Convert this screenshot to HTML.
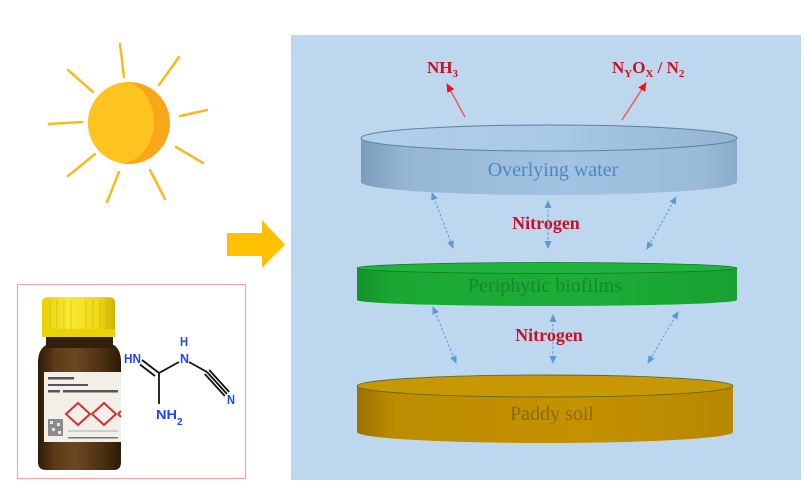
<!DOCTYPE html>
<html>
<head>
<meta charset="utf-8">
<style>
  html,body{margin:0;padding:0;background:#fff;}
  svg{display:block;}
</style>
</head>
<body>
<svg width="805" height="486" viewBox="0 0 805 486" xmlns="http://www.w3.org/2000/svg">
  <defs>
    <linearGradient id="gBlueSide" x1="0" y1="0" x2="1" y2="0">
      <stop offset="0" stop-color="#7b9cba"/>
      <stop offset="0.12" stop-color="#95b6d5"/>
      <stop offset="0.55" stop-color="#a3c3e3"/>
      <stop offset="0.9" stop-color="#9bbbdb"/>
      <stop offset="1" stop-color="#8aaccb"/>
    </linearGradient>
    <linearGradient id="gBlueTop" x1="0" y1="0" x2="1" y2="0">
      <stop offset="0" stop-color="#b3d0ec"/>
      <stop offset="0.5" stop-color="#a9c9e8"/>
      <stop offset="1" stop-color="#93b4d3"/>
    </linearGradient>
    <linearGradient id="gGreenSide" x1="0" y1="0" x2="1" y2="0">
      <stop offset="0" stop-color="#129428"/>
      <stop offset="0.1" stop-color="#1aa833"/>
      <stop offset="0.6" stop-color="#1cae37"/>
      <stop offset="1" stop-color="#17a130"/>
    </linearGradient>
    <linearGradient id="gSoilSide" x1="0" y1="0" x2="1" y2="0">
      <stop offset="0" stop-color="#9c7200"/>
      <stop offset="0.1" stop-color="#bd8c00"/>
      <stop offset="0.6" stop-color="#c49100"/>
      <stop offset="1" stop-color="#b88700"/>
    </linearGradient>
    <linearGradient id="gBottle" x1="0" y1="0" x2="1" y2="0">
      <stop offset="0" stop-color="#2e1a08"/>
      <stop offset="0.2" stop-color="#5a3a18"/>
      <stop offset="0.45" stop-color="#6b4822"/>
      <stop offset="0.8" stop-color="#4a2e12"/>
      <stop offset="1" stop-color="#2e1a08"/>
    </linearGradient>
    <linearGradient id="gCap" x1="0" y1="0" x2="1" y2="0">
      <stop offset="0" stop-color="#e6d000"/>
      <stop offset="0.35" stop-color="#f8e834"/>
      <stop offset="0.75" stop-color="#f2dc18"/>
      <stop offset="1" stop-color="#cdb400"/>
    </linearGradient>
    <marker id="mb" viewBox="0 0 8 7" refX="7" refY="3.5" markerWidth="8" markerHeight="7" markerUnits="userSpaceOnUse" orient="auto-start-reverse">
      <path d="M0,0 L8,3.5 L0,7 z" fill="#5b9bd5"/>
    </marker>
    <marker id="mr" viewBox="0 0 9 8" refX="8" refY="4" markerWidth="9" markerHeight="8" markerUnits="userSpaceOnUse" orient="auto">
      <path d="M0,0 L9,4 L0,8 z" fill="#ee1515"/>
    </marker>
    <clipPath id="sunClip"><circle cx="129" cy="123" r="41"/></clipPath>
  </defs>

  <!-- Sun -->
  <g stroke="#fbb920" stroke-width="2.5" stroke-linecap="round">
    <line x1="120" y1="44" x2="124" y2="77"/>
    <line x1="179" y1="57" x2="159" y2="85"/>
    <line x1="180" y1="116" x2="207" y2="110"/>
    <line x1="176" y1="147" x2="203" y2="163"/>
    <line x1="150" y1="170" x2="165" y2="199"/>
    <line x1="119" y1="172" x2="107" y2="202"/>
    <line x1="95" y1="154" x2="68" y2="176"/>
    <line x1="82" y1="122" x2="49" y2="124"/>
    <line x1="93" y1="92" x2="68" y2="70"/>
  </g>
  <circle cx="129" cy="123" r="41" fill="#f9a61a"/>
  <ellipse cx="121" cy="122" rx="33" ry="41" fill="#fdc41f" clip-path="url(#sunClip)"/>

  <!-- Yellow arrow -->
  <polygon points="227,233 262,233 262,220 285,244.5 262,268 262,256 227,256" fill="#ffc000"/>

  <!-- Pink box -->
  <rect x="17.5" y="284.5" width="228" height="194" fill="#ffffff" stroke="#f4a4a4" stroke-width="1.2"/>

  <!-- Bottle -->
  <path d="M46,345 Q38,350 38,362 L38,462 Q38,470 46,470 L114,470 Q121,470 121,462 L121,362 Q121,350 114,345 Z" fill="url(#gBottle)"/>
  <rect x="46" y="333" width="67" height="15" fill="#33200c"/>
  <path d="M42,337 L42,302 Q42,297 50,297 L107,297 Q115,297 115,302 L115,337 Z" fill="url(#gCap)"/>
  <rect x="42" y="329" width="73" height="8" fill="#e8d20a"/>
  <g stroke="#c8b000" stroke-width="0.8" opacity="0.7">
    <line x1="50" y1="300" x2="50" y2="329"/>
    <line x1="57" y1="300" x2="57" y2="329"/>
    <line x1="64" y1="300" x2="64" y2="329"/>
    <line x1="71" y1="300" x2="71" y2="329"/>
    <line x1="86" y1="300" x2="86" y2="329"/>
    <line x1="93" y1="300" x2="93" y2="329"/>
    <line x1="100" y1="300" x2="100" y2="329"/>
    <line x1="107" y1="300" x2="107" y2="329"/>
  </g>
  <rect x="44" y="372" width="77" height="70" fill="#f2efe8"/>
  <g fill="#555">
    <rect x="48" y="377" width="26" height="2.5"/>
    <rect x="48" y="384" width="40" height="2"/>
    <rect x="48" y="390" width="12" height="2.5"/>
    <rect x="63" y="390" width="55" height="2.5"/>
    <rect x="68" y="437" width="50" height="1.5" fill="#777"/>
  </g>
  <g fill="none" stroke="#d43030" stroke-width="2">
    <path d="M66,414 L78,403 L90,414 L78,425 Z"/>
    <path d="M92,414 L104,403 L116,414 L104,425 Z"/>
    <path d="M118,414 L121,411"/>
    <path d="M118,414 L121,417"/>
  </g>
  <rect x="48" y="419" width="15" height="17" fill="#8a8a8a"/>
  <g fill="#e8e8e8">
    <rect x="50" y="421" width="3" height="3"/>
    <rect x="57" y="423" width="3" height="3"/>
    <rect x="52" y="428" width="3" height="3"/>
    <rect x="58" y="431" width="3" height="3"/>
  </g>
  <line x1="68" y1="431" x2="118" y2="431" stroke="#999" stroke-width="0.8"/>

  <!-- Molecule -->
  <g stroke="#111" stroke-width="1.8" fill="none">
    <line x1="142" y1="360" x2="159" y2="373"/>
    <line x1="140" y1="364.5" x2="155" y2="376"/>
    <line x1="159" y1="373" x2="179" y2="362"/>
    <line x1="159" y1="373" x2="159" y2="404"/>
    <line x1="189" y1="362" x2="207" y2="372"/>
    <line x1="207" y1="372" x2="227" y2="394"/>
    <line x1="209.2" y1="370" x2="229.2" y2="392"/>
    <line x1="204.8" y1="374" x2="224.8" y2="396"/>
  </g>
  <g fill="#1f45ff" font-family="'Liberation Sans', sans-serif" font-weight="bold" font-size="13">
    <text x="124" y="363" textLength="17" lengthAdjust="spacingAndGlyphs">HN</text>
    <text x="180" y="346" textLength="8" lengthAdjust="spacingAndGlyphs">H</text>
    <text x="180" y="363" textLength="9" lengthAdjust="spacingAndGlyphs">N</text>
    <text x="227" y="404" textLength="8" lengthAdjust="spacingAndGlyphs">N</text>
    <text x="156" y="419" textLength="21" lengthAdjust="spacingAndGlyphs">NH</text>
    <text x="177" y="425" font-size="10">2</text>
  </g>

  <!-- Blue panel -->
  <rect x="291" y="35" width="510" height="445" fill="#bdd7ee"/>

  <!-- Red arrows -->
  <line x1="465" y1="117" x2="447" y2="84" stroke="#f05555" stroke-width="1.4" marker-end="url(#mr)"/>
  <line x1="622" y1="120" x2="646" y2="83" stroke="#f05555" stroke-width="1.4" marker-end="url(#mr)"/>

  <g fill="#cc1020" font-family="'Liberation Serif', serif" font-weight="bold" font-size="17">
    <text x="427" y="73">NH<tspan font-size="11" dy="4">3</tspan></text>
    <text x="612" y="73">N<tspan font-size="11" dy="4">Y</tspan><tspan dy="-4">O</tspan><tspan font-size="11" dy="4">X</tspan><tspan dy="-4"> / N</tspan><tspan font-size="11" dy="4">2</tspan></text>
  </g>

  <!-- Overlying water cylinder -->
  <path d="M361,138 L361,182 A188,13 0 0 0 737,182 L737,138 Z" fill="url(#gBlueSide)"/>
  <ellipse cx="549" cy="138" rx="188" ry="13" fill="url(#gBlueTop)" stroke="#5a8790" stroke-width="1"/>
  <text x="553" y="176" text-anchor="middle" font-family="'Liberation Serif', serif" font-size="20" fill="#4d88c3">Overlying water</text>

  <!-- Periphytic biofilms cylinder -->
  <path d="M357,268 L357,300 A190,6 0 0 0 737,300 L737,268 Z" fill="url(#gGreenSide)"/>
  <ellipse cx="547" cy="268" rx="190" ry="5.5" fill="#20b23c" stroke="#0f7a22" stroke-width="0.8"/>
  <text x="545" y="292" text-anchor="middle" font-family="'Liberation Serif', serif" font-size="20" fill="#158a2c">Periphytic biofilms</text>

  <!-- Paddy soil cylinder -->
  <path d="M357,386 L357,432 A188,11 0 0 0 733,432 L733,386 Z" fill="url(#gSoilSide)"/>
  <ellipse cx="545" cy="386" rx="188" ry="11" fill="#c79803" stroke="#5f6a26" stroke-width="0.9"/>
  <text x="552" y="420" text-anchor="middle" font-family="'Liberation Serif', serif" font-size="20" fill="#8b6a00">Paddy soil</text>

  <!-- Blue dashed double arrows -->
  <g stroke="#5b9bd5" stroke-width="1" stroke-dasharray="2.5,2" fill="none">
    <line x1="432" y1="193" x2="453" y2="248" marker-start="url(#mb)" marker-end="url(#mb)"/>
    <line x1="548" y1="201" x2="548" y2="248" marker-start="url(#mb)" marker-end="url(#mb)"/>
    <line x1="676" y1="197" x2="647" y2="249" marker-start="url(#mb)" marker-end="url(#mb)"/>
    <line x1="433" y1="307" x2="456" y2="363" marker-start="url(#mb)" marker-end="url(#mb)"/>
    <line x1="553" y1="315" x2="553" y2="363" marker-start="url(#mb)" marker-end="url(#mb)"/>
    <line x1="678" y1="312" x2="648" y2="363" marker-start="url(#mb)" marker-end="url(#mb)"/>
  </g>

  <!-- Nitrogen labels -->
  <g fill="#c8102a" font-family="'Liberation Serif', serif" font-weight="bold" font-size="18" text-anchor="middle">
    <text x="546" y="229">Nitrogen</text>
    <text x="549" y="341">Nitrogen</text>
  </g>
</svg>
</body>
</html>
